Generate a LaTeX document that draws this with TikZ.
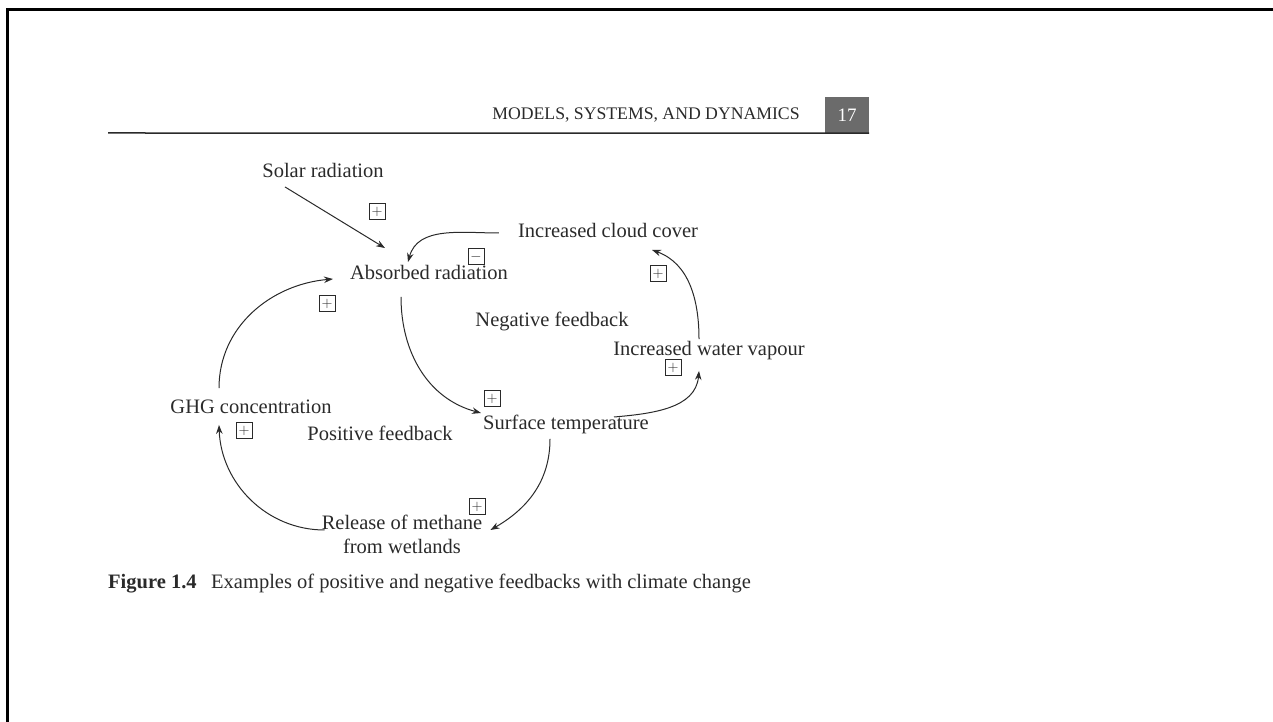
\documentclass[tikz,border=0pt]{standalone}
\usepackage{fontspec}
\setmainfont{Liberation Serif}
\usepackage{tikz}
\usetikzlibrary{arrows.meta}

\definecolor{ink}{HTML}{2A2A2A}
\definecolor{tabgray}{HTML}{6B6B6B}

\tikzset{
  varbase/.style={text=ink, font=\fontsize{20.5}{24}\selectfont, inner sep=2pt},
  var/.style={varbase, text height=14pt, text depth=4.5pt},
  sign/.style={draw=ink, line width=1pt, minimum size=16pt, inner sep=0pt,
               text=ink, font=\fontsize{15}{15}\selectfont},
  link/.style={draw=ink, line width=1pt, -{Stealth[length=9pt,width=6.5pt]}},
}

\begin{document}
\begin{tikzpicture}[x=1pt, y=1pt]
  \useasboundingbox (0,0) rectangle (1273,722);
  \draw[line width=3pt] (1273,712) -- (7,712) -- (7,0);

  % running head
  \node[text=ink, font=\fontsize{17.7}{18}\selectfont] (runhead) at (646,607) {MODELS, SYSTEMS, AND DYNAMICS};
  \node[fill=tabgray, minimum width=44pt, minimum height=36pt, inner sep=0pt,
        text=white, font=\fontsize{19}{19}\selectfont] (pageno) at (847,607) {17};
  \coordinate (ruleL) at (108,589);
  \draw[ink, line width=1.5pt] (ruleL) -- (pageno.south east);

  % variables
  \node[var] (solar)    at (323,549) {Solar radiation};
  \node[var] (absorbed) at (429,447) {Absorbed radiation};
  \node[var] (cloud)    at (608,489) {Increased cloud cover};
  \node[var] (water)    at (709,371) {Increased water vapour};
  \node[var] (surface)  at (566,297) {Surface temperature};
  \node[var] (ghg)      at (251,313) {GHG concentration};
  \node[varbase, align=center] (release) at (402,188) {Release of methane\\from wetlands};

  \node[var] (negfb) at (552,400) {Negative feedback};
  \node[var] (posfb) at (380,286) {Positive feedback};

  % polarities
  \node[sign] (s-solar)   at (377,510) {$+$};
  \node[sign] (s-cloud)   at (476,465) {$-$};
  \node[sign] (s-ghg)     at (327,418) {$+$};
  \node[sign] (s-abs)     at (492,323) {$+$};
  \node[sign] (s-surf)    at (673,354) {$+$};
  \node[sign] (s-water)   at (658,448) {$+$};
  \node[sign] (s-methane) at (477,215) {$+$};
  \node[sign] (s-release) at (244,291) {$+$};

  % links
  \draw[link] ([shift={(-38,-2.5)}]solar.south) -- ([shift={(-44,15.5)}]absorbed.north);
  \draw[link] ([xshift=-17pt]cloud.west) to[out=180,in=75] ([shift={(-21,1.5)}]absorbed.north);
  \draw[link] ([shift={(-32,9.5)}]ghg.north) to[out=90,in=185] ([shift={(-15,-4)}]absorbed.west);
  \draw[link] ([shift={(-28,-10.5)}]absorbed.south) to[out=-90,in=165] ([yshift=12pt]surface.west);
  \draw[link] ([shift={(-37,8)}]surface.east) to[out=5,in=-95] ([shift={(-10,-8.5)}]water.south);
  \draw[link] ([shift={(-10,0.5)}]water.north) to[out=90,in=-20] ([shift={(44,-5.5)}]cloud.south);
  \draw[link] ([shift={(-16,-2.5)}]surface.south) to[out=-90,in=30] ([shift={(6,4)}]release.east);
  \draw[link] ([shift={(5,4)}]release.west) to[out=180,in=-88] ([shift={(-32,-4.5)}]ghg.south);

  % caption
  \node[var, anchor=west] (fignum)  at (106,138) {\bfseries Figure 1.4};
  \node[var, anchor=west] (figtext) at (209,138) {Examples of positive and negative feedbacks with climate change};
\end{tikzpicture}
\end{document}
